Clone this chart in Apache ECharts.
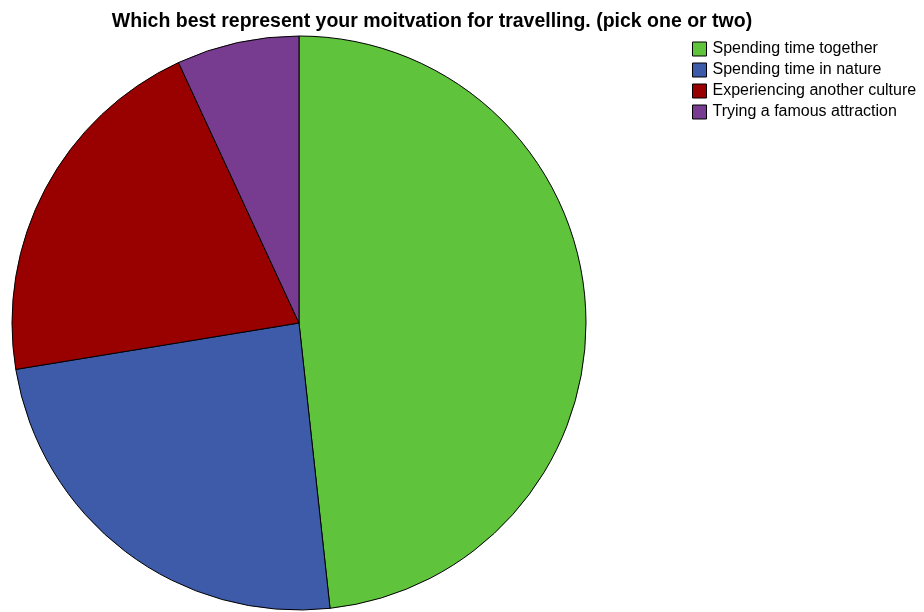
<!DOCTYPE html>
<html><head><meta charset="utf-8">
<script src="https://cdn.jsdelivr.net/npm/echarts@6/dist/echarts.min.js"></script>
<style>html,body{margin:0;padding:0;background:#fff}#c{width:924px;height:612px}</style>
</head><body><div id="c"></div>
<script>
const categories = ["Spending time together", "Spending time in nature", "Experiencing another culture", "Trying a famous attraction"];
const values = [14, 7, 6, 2];
const colors = ["#5fc43b", "#3e5ba9", "#990000", "#773b8f"];
const chart = echarts.init(document.getElementById('c'));
chart.setOption({
  animation: false,
  backgroundColor: '#fff',
  title: {
    text: 'Which best represent your moitvation for travelling. (pick one or two)',
    left: 427, top: 7, textAlign: 'center',
    textStyle: { fontFamily: 'Liberation Sans, Arial', fontWeight: 'bold', fontSize: 19.5, color: '#000' }
  },
  legend: {
    orient: 'vertical', left: 692, top: 41, padding: 0,
    itemWidth: 14, itemHeight: 14, itemGap: 5,
    icon: 'rect',
    data: categories,
    itemStyle: { borderColor: '#000', borderWidth: 1 },
    textStyle: { fontFamily: 'Liberation Sans, Arial', fontSize: 16, lineHeight: 16, color: '#000', padding: [0,0,0,1] }
  },
  series: [{
    type: 'pie',
    center: [299, 323], radius: 287,
    startAngle: 90, clockwise: true,
    label: { show: false }, labelLine: { show: false },
    emphasis: { disabled: true },
    itemStyle: { borderColor: '#000', borderWidth: 1 },
    data: categories.map((c, i) => ({ name: c, value: values[i], itemStyle: { color: colors[i] } }))
  }]
});
</script></body></html>
